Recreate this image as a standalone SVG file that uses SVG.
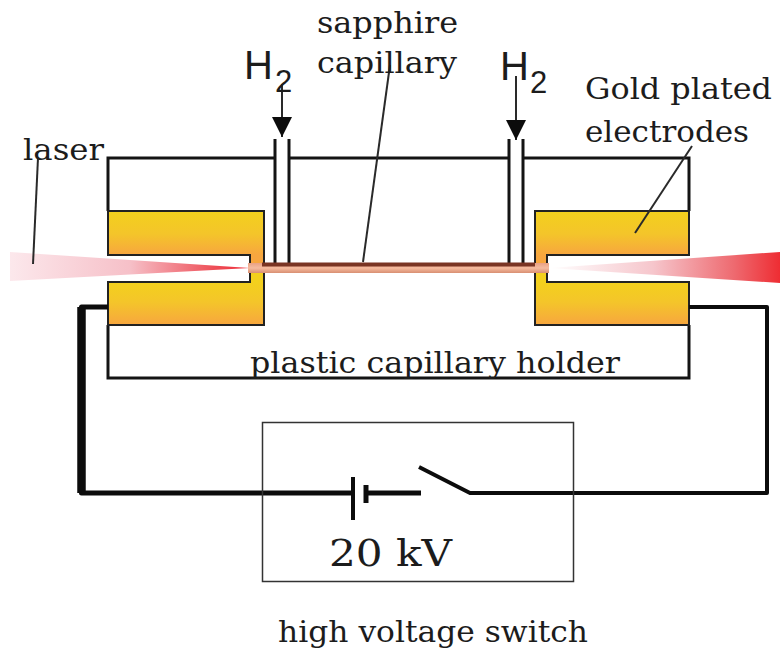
<svg xmlns="http://www.w3.org/2000/svg" width="780" height="651" viewBox="0 0 780 651">
<style>
.t{font-family:"DejaVu Serif","Liberation Serif",serif;font-size:30px;fill:#1c1c1c}
.h{font-family:"Liberation Sans",Arial,sans-serif;fill:#1c1c1c}
.o{fill:none;stroke:#141414;stroke-width:3}
.e{fill:none;stroke:#222;stroke-width:2}
.w{fill:none;stroke:#0c0c0c;stroke-linejoin:round}
.l{fill:none;stroke:#2a2a2a;stroke-width:2}
</style>
<defs>
<linearGradient id="gt" x1="0" y1="0" x2="0" y2="1"><stop offset="0" stop-color="#f3d01d"/><stop offset="0.4" stop-color="#f4c52a"/><stop offset="0.77" stop-color="#f7a63f"/><stop offset="1" stop-color="#f7a63f"/></linearGradient>
<linearGradient id="gb" x1="0" y1="0" x2="0" y2="1"><stop offset="0" stop-color="#f3d01d"/><stop offset="0.25" stop-color="#f3d01d"/><stop offset="0.6" stop-color="#f4c52a"/><stop offset="1" stop-color="#f7a63f"/></linearGradient>
<linearGradient id="bl" x1="0" y1="0" x2="1" y2="0"><stop offset="0" stop-color="#fce8ec"/><stop offset="0.5" stop-color="#f6c0c8"/><stop offset="0.85" stop-color="#ee4f58"/><stop offset="1" stop-color="#ee2d38"/></linearGradient>
<linearGradient id="br" x1="0" y1="0" x2="1" y2="0"><stop offset="0" stop-color="#ffffff"/><stop offset="0.45" stop-color="#f6c6cc"/><stop offset="0.8" stop-color="#ee6a70"/><stop offset="1" stop-color="#ee2d33"/></linearGradient>
<linearGradient id="c" x1="0" y1="0" x2="0" y2="1"><stop offset="0" stop-color="#e9a184"/><stop offset="0.5" stop-color="#f5bb9f"/><stop offset="1" stop-color="#d98f72"/></linearGradient>
<marker id="a" markerUnits="userSpaceOnUse" markerWidth="20" markerHeight="20" refX="20" refY="10" orient="auto" viewBox="0 0 20 20"><path d="M0 0L20 10L0 20Z" fill="#0c0c0c"/></marker>
</defs>
<g id="holder">
<path class="o" d="M108 211V158H274M289 158H509M524 158H689V211"/>
<path class="o" d="M108 325V378H689V325"/>
</g>
<g id="electrode-left">
<path d="M108 211H264V268H250V255H108Z" fill="url(#gt)"/>
<path d="M108 282H250V268H264V325H108Z" fill="url(#gb)"/>
<path class="e" d="M108 211H264V325H108V282H250V255H108Z"/>
</g>
<g id="electrode-right">
<path d="M535 211H689V255H547V268H535Z" fill="url(#gt)"/>
<path d="M535 268H547V282H689V325H535Z" fill="url(#gb)"/>
<path class="e" d="M689 211H535V325H689V282H547V255H689Z"/>
</g>
<g id="gas-inlet-left">
<path class="o" d="M275 139V263M289 139V263"/>
</g>
<g id="gas-inlet-right">
<path class="o" d="M509 139V263M523 139V263"/>
</g>
<g id="beam-left"><path d="M10 252L250 268L10 281Z" fill="url(#bl)"/></g>
<g id="beam-right"><path d="M549 268L780 252V283Z" fill="url(#br)"/></g>
<g id="capillary">
<rect x="248" y="263" width="301" height="10" fill="url(#c)"/>
<rect x="262" y="262.500" width="273" height="4" fill="#7a3524"/>
</g>
<g id="connectors">
<path class="w" stroke-width="8.500" d="M81.500 493V307"/>
<path class="w" stroke-width="5" d="M108 307H81.500V493H353"/>
<path class="w" stroke-width="4" d="M353 477V520"/>
<path class="w" stroke-width="5" d="M366 485V503"/>
<path class="w" stroke-width="5" d="M366 493H421"/>
<path class="w" stroke-width="4" d="M419 467L470 493H767V307H689"/>
<path class="l" d="M282 84V137" marker-end="url(#a)"/>
<path class="l" d="M516 76V140" marker-end="url(#a)"/>
<path class="l" d="M38 158L33 264"/>
<path class="l" d="M390 65L363 262"/>
<path class="l" d="M692 146L635 233"/>
</g>
<g id="switch-box"><rect x="262.500" y="422.500" width="311" height="159" fill="none" stroke="#333" stroke-width="1.500"/></g>
<g id="labels">
<text class="t" x="317" y="33" textLength="141" lengthAdjust="spacingAndGlyphs">sapphire</text>
<text class="t" x="317" y="73" textLength="140" lengthAdjust="spacingAndGlyphs">capillary</text>
<text class="t" x="585" y="99" textLength="187" lengthAdjust="spacingAndGlyphs">Gold plated</text>
<text class="t" x="585" y="142" textLength="164" lengthAdjust="spacingAndGlyphs">electrodes</text>
<text class="t" x="23" y="160" textLength="81" lengthAdjust="spacingAndGlyphs">laser</text>
<text class="t" x="250" y="373" textLength="370" lengthAdjust="spacingAndGlyphs">plastic capillary holder</text>
<text class="t" x="329" y="566" style="font-size:38px" textLength="123" lengthAdjust="spacingAndGlyphs">20 kV</text>
<text class="t" x="278" y="642" textLength="310" lengthAdjust="spacingAndGlyphs">high voltage switch</text>
<text class="h" x="244" y="79" style="font-size:40px">H</text>
<text class="h" x="275" y="92" style="font-size:31px">2</text>
<text class="h" x="500" y="80" style="font-size:40px">H</text>
<text class="h" x="530" y="93" style="font-size:31px">2</text>
</g>
</svg>
